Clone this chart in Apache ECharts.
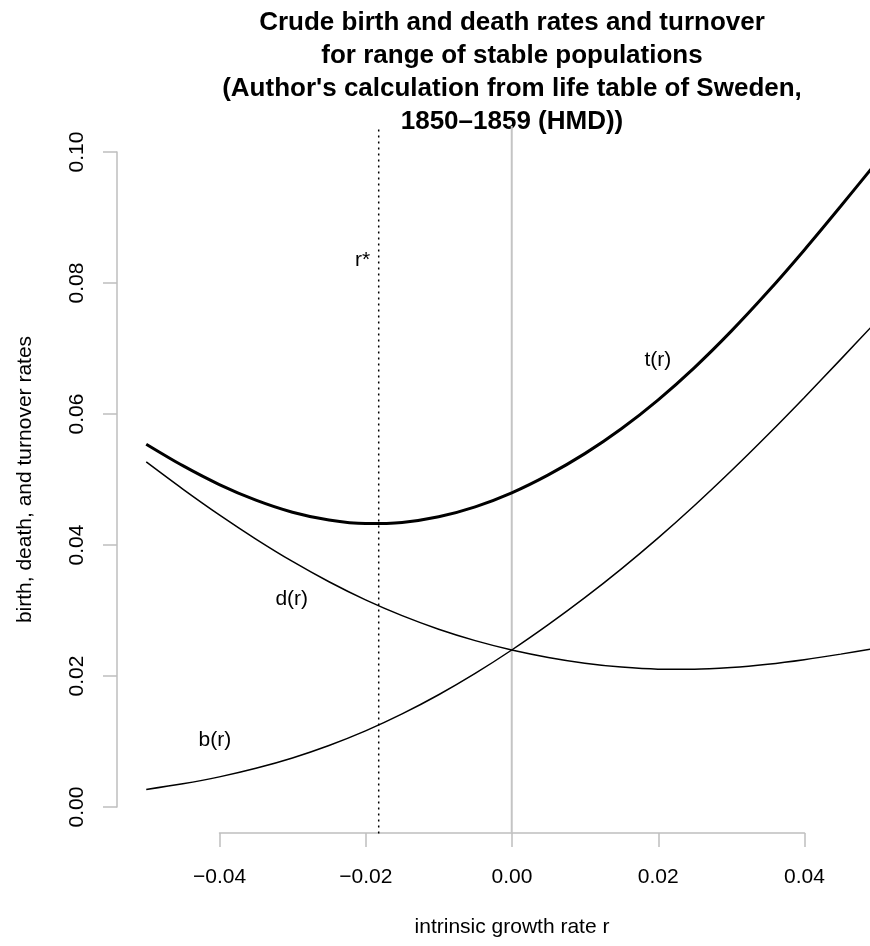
<!DOCTYPE html>
<html>
<head>
<meta charset="utf-8">
<script src="https://cdn.jsdelivr.net/npm/echarts@6/dist/echarts.min.js"></script>
<style>
html, body { margin: 0; padding: 0; background: #fff; }
#chart-container { width: 870px; height: 946px; }
</style>
</head>
<body>
<div id="chart-container"></div>
<script>
// intrinsic growth rate r and the three rates
const rates = [-0.05, -0.045, -0.04, -0.035, -0.03, -0.025, -0.02, -0.015, -0.01, -0.005,
	0, 0.005, 0.01, 0.015, 0.02, 0.025, 0.03, 0.035, 0.04, 0.045, 0.05];
const birth = [0.00271, 0.00357, 0.00463, 0.00594, 0.00752, 0.00942, 0.01165, 0.01424, 0.01717, 0.02043,
	0.02400, 0.02787, 0.03199, 0.03639, 0.04108, 0.04606, 0.05132, 0.05682, 0.06252, 0.06837, 0.07430];
const death = [0.05271, 0.04857, 0.04463, 0.04094, 0.03752, 0.03442, 0.03165, 0.02924, 0.02717, 0.02543,
	0.02400, 0.02287, 0.02199, 0.02139, 0.02108, 0.02106, 0.02132, 0.02182, 0.02252, 0.02337, 0.02430];
const turnover = [0.05542, 0.05214, 0.04926, 0.04688, 0.04504, 0.04384, 0.04330, 0.04348, 0.04434, 0.04586,
	0.04800, 0.05074, 0.05398, 0.05778, 0.06216, 0.06712, 0.07264, 0.07864, 0.08504, 0.09174, 0.09860];
const rStar = -0.0182;
const xTicks = [-0.04, 0.04, 0.02];
const yTicks = [0, 0.1, 0.02];
const curveLabels = [
	{ name: 't(r)', value: [0.0200, 0.0682] },
	{ name: 'r*', value: [-0.0204, 0.0835] },
	{ name: 'd(r)', value: [-0.0301, 0.0318] },
	{ name: 'b(r)', value: [-0.0406, 0.0102] },
];

const FONT = '"Liberation Sans", Arial, Helvetica, sans-serif';
const AXIS_GREY = '#bebebe';
// plot region limits (ylim 0..0.1 widened by 4%)
const Y_LO = -0.004;
const Y_HI = 0.104;

let myChart = echarts.init(document.getElementById('chart-container'), null, {
	renderer: 'canvas',
});

function pair(xs, ys) {
	return xs.map(function (x, i) {
		return [x, ys[i]];
	});
}

function vline(x) {
	return [[x, Y_LO], [x, Y_HI]];
}

function fmt(v) {
	if (Math.abs(v) < 1e-9) v = 0;
	return (v < 0 ? '\u2212' : '') + Math.abs(v).toFixed(2);
}

function curve(name, ys, width, z) {
	return {
		name: name,
		type: 'line',
		xAxisIndex: 0,
		yAxisIndex: 0,
		showSymbol: false,
		smooth: 0.3,
		silent: true,
		z: z,
		lineStyle: { color: '#000', width: width },
		data: pair(rates, ys),
	};
}

let option = {
	animation: false,
	backgroundColor: '#fff',
	textStyle: { fontFamily: FONT },
	graphic: [
		{
			type: 'text',
			x: 512,
			y: 6.5,
			style: {
				text: 'Crude birth and death rates and turnover\nfor range of stable populations\n(Author\'s calculation from life table of Sweden,\n1850\u20131859 (HMD))',
				font: 'bold 26px ' + FONT,
				textAlign: 'center',
				textVerticalAlign: 'top',
				lineHeight: 33,
				fill: '#000',
			},
		},
	],
	grid: [
		// plot region, cut off at the right edge of the page
		{ left: 117, top: 126, right: 0, height: 707.4 },
		// axis span, tick to tick
		{ left: 219.5, top: 152, width: 585, height: 655 },
	],
	xAxis: [
		{ gridIndex: 0, type: 'value', min: -0.054, max: 0.04901, show: false },
		{
			gridIndex: 1,
			type: 'value',
			min: xTicks[0],
			max: xTicks[1],
			interval: xTicks[2],
			offset: 26,
			name: 'intrinsic growth rate r',
			nameLocation: 'middle',
			nameGap: 84,
			nameTextStyle: { fontSize: 21, color: '#000', fontFamily: FONT },
			axisLine: { show: true, onZero: false, lineStyle: { color: AXIS_GREY, width: 1.5 } },
			axisTick: { show: true, length: 14, lineStyle: { color: AXIS_GREY, width: 1.5 } },
			axisLabel: { margin: 34, fontSize: 21, color: '#000', fontFamily: FONT, formatter: fmt },
			splitLine: { show: false },
		},
	],
	yAxis: [
		{ gridIndex: 0, type: 'value', min: Y_LO, max: Y_HI, show: false },
		{
			gridIndex: 1,
			type: 'value',
			min: yTicks[0],
			max: yTicks[1],
			interval: yTicks[2],
			offset: 102.5,
			name: 'birth, death, and turnover rates',
			nameLocation: 'middle',
			nameGap: 81,
			nameTextStyle: { fontSize: 21, color: '#000', fontFamily: FONT },
			axisLine: { show: true, onZero: false, lineStyle: { color: AXIS_GREY, width: 1.5 } },
			axisTick: { show: true, length: 14, lineStyle: { color: AXIS_GREY, width: 1.5 } },
			axisLabel: { rotate: 90, margin: 29, fontSize: 21, color: '#000', fontFamily: FONT, formatter: fmt },
			splitLine: { show: false },
		},
	],
	series: [
		{
			name: 'zero',
			type: 'line',
			xAxisIndex: 0,
			yAxisIndex: 0,
			showSymbol: false,
			silent: true,
			z: 1,
			lineStyle: { color: '#c4c4c4', width: 2 },
			data: vline(0),
		},
		{
			name: 'rstar',
			type: 'line',
			xAxisIndex: 0,
			yAxisIndex: 0,
			showSymbol: false,
			silent: true,
			z: 1,
			lineStyle: { color: '#000', width: 1.5, type: [2, 4] },
			data: vline(rStar),
		},
		curve('b(r)', birth, 1.5, 3),
		curve('d(r)', death, 1.5, 3),
		curve('t(r)', turnover, 3, 4),
		{
			name: 'labels',
			type: 'scatter',
			xAxisIndex: 0,
			yAxisIndex: 0,
			symbolSize: 0,
			silent: true,
			itemStyle: { opacity: 1 },
			label: {
				show: true,
				position: 'inside',
				formatter: '{b}',
				fontSize: 21,
				color: '#000',
				opacity: 1,
				fontFamily: FONT,
			},
			data: curveLabels,
		},
	],
};

if (option && typeof option === 'object') {
	myChart.setOption(option);
}
window.addEventListener('resize', myChart.resize);
</script>
</body>
</html>
